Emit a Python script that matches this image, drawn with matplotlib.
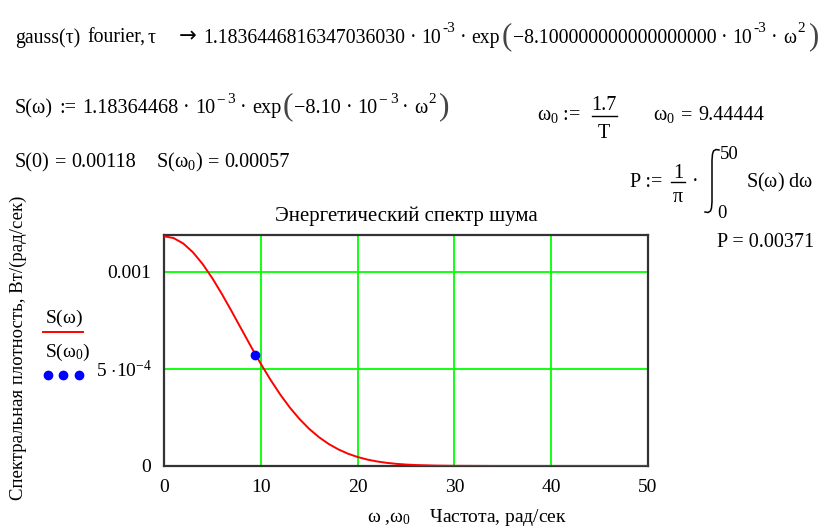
import matplotlib
matplotlib.use("Agg")
import matplotlib.pyplot as plt
from matplotlib.lines import Line2D

plt.rcParams['font.family'] = ['Liberation Serif', 'DejaVu Serif']
plt.rcParams['mathtext.fontset'] = 'custom'
plt.rcParams['mathtext.rm'] = 'Liberation Serif'
plt.rcParams['mathtext.it'] = 'Liberation Serif:italic'
plt.rcParams['mathtext.bf'] = 'Liberation Serif:bold'

W, H = 824, 531

# спектр S(w)
omega = [0, 1, 2, 3, 4, 5, 6, 7, 8, 9, 10, 11, 12, 13, 14, 15, 16, 17, 18,
         19, 20, 21, 22, 23, 24, 25, 26, 28, 30, 35, 40, 45, 50]
S = [1.1836e-3, 1.1741e-3, 1.1459e-3, 1.1004e-3, 1.0398e-3, 0.9667e-3,
     0.8843e-3, 0.7959e-3, 0.7048e-3, 0.6142e-3, 0.5266e-3, 0.4442e-3,
     0.3687e-3, 0.3011e-3, 0.2420e-3, 0.1913e-3, 0.1488e-3, 0.1139e-3,
     0.0858e-3, 0.0636e-3, 0.0464e-3, 0.0332e-3, 0.0235e-3, 0.0163e-3,
     0.0111e-3, 0.0075e-3, 0.0050e-3, 0.0020e-3, 0.0008e-3, 0.0, 0.0, 0.0, 0.0]
omega0 = [9.44444]
S_omega0 = [0.00057]

xticks = [0, 10, 20, 30, 40, 50]
yticks = [0, 5e-4, 1e-3]
ytick_labels = ["0", r"5 $\cdot$10$^{-4}$", "0.001"]

fig = plt.figure(figsize=(W / 100, H / 100), dpi=100)
fig.patch.set_facecolor('white')
renderer = fig.canvas.get_renderer()


def put(x, y, s, size=14, **kw):
    # координаты в пикселях картинки, y от верхнего края
    return fig.text(x / W, 1 - y / H, s, fontsize=size, va='baseline', **kw)


def line(xs, ys, **kw):
    fig.add_artist(Line2D([x / W for x in xs], [1 - y / H for y in ys],
                          transform=fig.transFigure, **kw))


def flow(x, y, items, size=14.3, sup=11, dy=11):
    # кусочки формулы друг за другом: (отступ, текст, вид)
    # n - обычный текст, s - верхний индекс, p - высокая скобка, a - стрелка
    for gap, s, kind in items:
        x += gap
        if kind == 's':
            t = put(x, y - dy, s, size=sup)
        elif kind == 'p':
            t = put(x, y + 1, s, size=size + 8, color='#444444')
        elif kind == 'a':
            t = put(x, y - 1, s, size=size + 1, family=['DejaVu Sans'])
        else:
            t = put(x, y, s, size=size)
        x = t.get_window_extent(renderer).x1
    return x


# строка 1
flow(15, 43, [(0, 'gauss(τ)', 'n'), (7, 'fourier,', 'n'), (2, 'τ', 'n'),
              (24, '→', 'a'), (6, '1.1836446816347036030', 'n'),
              (5, '·', 'n'), (5, '10', 'n'), (1, '-3', 's'), (5, '·', 'n'),
              (5, 'exp', 'n'), (1, '(', 'p'),
              (1, '−8.100000000000000000', 'n'), (5, '·', 'n'),
              (5, '10', 'n'), (1, '-3', 's'), (5, '·', 'n'), (5, 'ω', 'n'),
              (1, '2', 's'), (4, ')', 'p')], size=14.2)

# строка 2
flow(15, 113, [(0, 'S(ω)', 'n'), (6, ':=', 'n'), (6, '1.18364468', 'n'),
               (5, '·', 'n'), (5, '10', 'n'), (1, '−', 's'), (3, '3', 's'),
               (5, '·', 'n'), (5, 'exp', 'n'), (1, '(', 'p'),
               (1, '−8.10', 'n'), (5, '·', 'n'), (5, '10', 'n'),
               (1, '−', 's'), (3, '3', 's'), (5, '·', 'n'), (5, 'ω', 'n'),
               (1, '2', 's'), (3, ')', 'p')], size=14.6, dy=10)

# строка 3
flow(15, 167, [(0, 'S(0)', 'n'), (5, '=', 'n'), (5, '0.00118', 'n'),
               (20, r'S($\mathrm{\omega}_0$)', 'n'), (5, '=', 'n'),
               (5, '0.00057', 'n')], size=14.6)

put(537, 120, r"$\mathrm{\omega}_0$ :=", size=14.5)
put(604, 110, "1.7", size=14.5, ha='center')
line([592, 617], [116, 116], color='black', lw=1.0)
put(604, 138, "T", size=14.5, ha='center')
flow(653, 120, [(0, r"$\mathrm{\omega}_0$", 'n'), (6, '=', 'n'),
                (6, '9.44444', 'n')], size=14.6)

put(630, 187, "P :=", size=14.5)
put(678, 178, "1", size=14.5, ha='center')
line([671, 685], [182, 182], color='black', lw=1.0)
put(678, 202, "π", size=14.5, ha='center')
put(692, 187, "·", size=14.5)
# знак интеграла
line([719, 716, 713.5, 712.5, 712, 712, 711.5, 710.5, 708, 705],
     [150, 149.5, 151, 154, 160, 202, 208, 211, 212.5, 212],
     color='black', lw=1.1)
put(720, 159, "50", size=13.5)
put(717, 218, "0", size=13.5)
put(746, 187, r"S($\mathrm{\omega}$) d$\mathrm{\omega}$", size=14.5)
put(717, 247, "P = 0.00371", size=14.5)

# график
ax = fig.add_axes([164 / W, 1 - 466 / H, (648 - 164) / W, (466 - 235) / H])
ax.plot(omega, S, color='#ff0000', lw=1.4, zorder=3)
ax.plot(omega0, S_omega0, 'o', color='#0000ff', ms=6, zorder=4)
ax.set_xlim(0, 50)
ax.set_ylim(0, 0.00119)
ax.set_xticks(xticks)
ax.set_xticklabels([str(t) for t in xticks])
ax.set_yticks(yticks)
ax.set_yticklabels(ytick_labels)
ax.tick_params(length=0, labelsize=14, pad=9)
ax.grid(True, color='#00ff00', lw=1.3)
ax.set_axisbelow(True)
for sp in ax.spines.values():
    sp.set_color('#333333')
    sp.set_linewidth(1.6)
ax.set_title("Энергетический спектр шума", fontsize=15, pad=10)

# подпись оси Y и обозначения кривых
fig.text(18 / W, 1 - 348 / H, "Спектральная плотность, Вт/(рад/сек)",
         rotation=90, ha='center', va='center', fontsize=13.5)
put(45, 323, r"S($\mathrm{\omega}$)", size=14)
line([43, 83], [332, 332], color='#ff0000', lw=1.4)
put(45, 357, r"S($\mathrm{\omega}_0$)", size=14)
line([48, 63.5, 79], [375, 375, 375], ls='none', marker='o', ms=6,
     color='#0000ff')
put(367, 522, r"$\mathrm{\omega}$ ,$\mathrm{\omega}_0$    Частота, рад/сек", size=14)

fig.savefig("out.png", dpi=100, facecolor='white')
